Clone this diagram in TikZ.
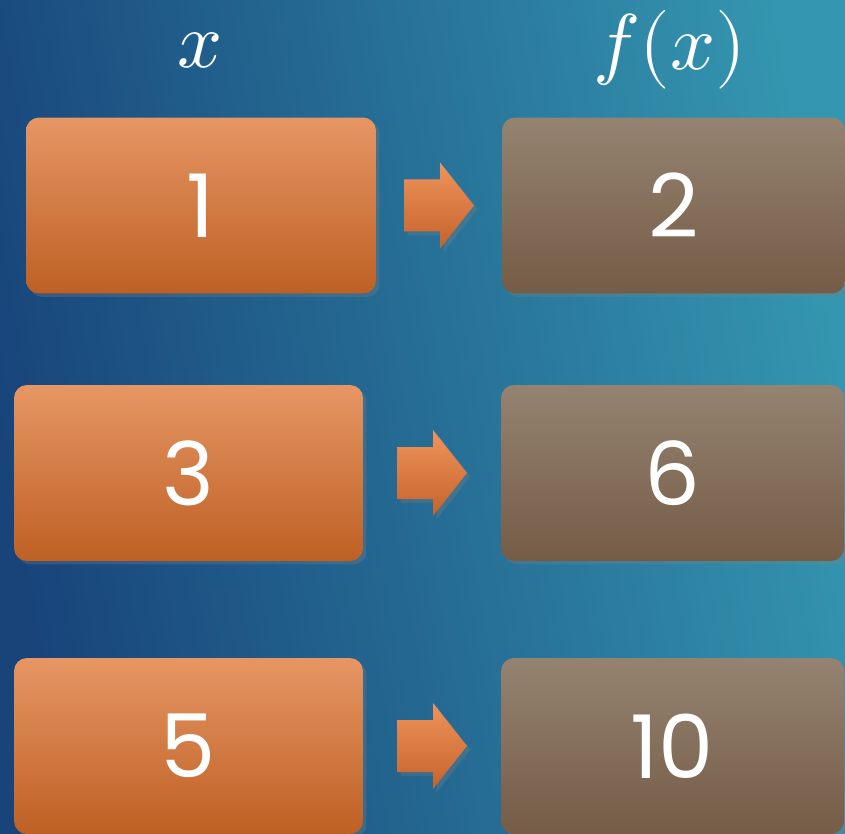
\documentclass[tikz,border=0pt]{standalone}
\usepackage{fontspec}
\usepackage{unicode-math}
\setmainfont{Poppins}
\setmathfont{Latin Modern Math}
\usepackage{tikz}
\usetikzlibrary{calc,shadows}
\definecolor{bgleft}{RGB}{24,68,122}
\definecolor{bgright}{RGB}{52,150,176}
\definecolor{intop}{RGB}{230,150,100}
\definecolor{inbot}{RGB}{190,96,36}
\definecolor{outtop}{RGB}{148,131,113}
\definecolor{outbot}{RGB}{117,92,70}
\definecolor{arrtop}{RGB}{238,148,92}
\definecolor{arrbot}{RGB}{198,98,42}

\begin{document}
\begin{tikzpicture}[x=0.02cm,y=-0.02cm,
  box/.style={rounded corners=0.26cm,minimum height=3.52cm,inner sep=0pt,text=white,
    font=\fontsize{50}{54}\selectfont,
    drop shadow={opacity=0.3,shadow xshift=2pt,shadow yshift=-2pt}},
  inbox/.style={box,top color=intop,bottom color=inbot},
  outbox/.style={box,top color=outtop,bottom color=outbot,minimum width=6.86cm},
  head/.style={text=white,font=\fontsize{45}{50}\selectfont}]
  \useasboundingbox (0,0) rectangle (845,834);
  \shade[left color=bgleft,right color=bgright,shading angle=100] (0,0) rectangle (845,834);
  \node[head] (hx) at (200,50) {$x$};
  \node[head] (hf) at (670,50) {$f(x)$};
  \node[inbox,minimum width=7cm] (in1) at (201,205.5) {1};
  \node[inbox,minimum width=6.98cm] (in2) at (188.5,473) {3};
  \node[inbox,minimum width=6.98cm] (in3) at (188.5,746) {5};
  \node[outbox] (out1) at (673.5,205.5) {2};
  \node[outbox] (out2) at (672.5,473) {6};
  \node[outbox] (out3) at (672.5,746) {10};
  \foreach \i in {1,2,3}{
    \coordinate (m\i) at ($(in\i.east)!0.5!(out\i.west)$);
    \shade[shift={(m\i)},top color=arrtop,bottom color=arrbot,
      drop shadow={opacity=0.3,shadow xshift=2pt,shadow yshift=-2pt}]
      (-35,-26) -- (1,-26) -- (1,-43) -- (35,0) -- (1,43) -- (1,26) -- (-35,26) -- cycle;
  }
\end{tikzpicture}
\end{document}
